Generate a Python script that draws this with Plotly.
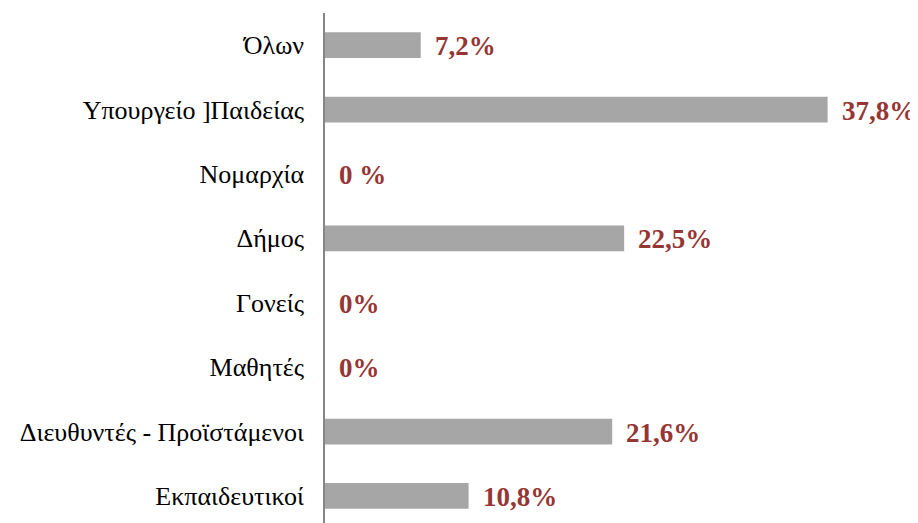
import plotly.graph_objects as go

# Data (bottom to top)
categories = [
    "Εκπαιδευτικοί",
    "Διευθυντές - Προϊστάμενοι",
    "Μαθητές",
    "Γονείς",
    "Δήμος",
    "Νομαρχία",
    "Υπουργείο ]Παιδείας",
    "Όλων",
]
values = [10.8, 21.6, 0, 0, 22.5, 0, 37.8, 7.2]
value_labels = ["10,8%", "21,6%", "0%", "0%", "22,5%", "0 %", "37,8%", "7,2%"]

fig = go.Figure(
    go.Bar(
        x=values,
        y=categories,
        orientation="h",
        width=0.4,
        marker=dict(color="#A6A6A6", line=dict(width=0)),
        hoverinfo="skip",
    )
)

# value labels next to the bars
for cat, val, lab in zip(categories, values, value_labels):
    fig.add_annotation(
        x=val, y=cat, text=lab, showarrow=False,
        xanchor="left", yanchor="middle", xshift=12, yshift=-1,
        font=dict(family="Liberation Serif", size=27, color="#963634", weight="bold"),
    )

# page body adds an 8px offset, so the figure is sized 8px smaller
fig.update_layout(
    width=910,
    height=515,
    margin=dict(l=317, r=0, t=5, b=0),
    plot_bgcolor="white",
    paper_bgcolor="white",
    showlegend=False,
    font=dict(family="Liberation Serif", size=26, color="black"),
    xaxis=dict(
        range=[0, 44.6],
        showgrid=False, zeroline=False, showticklabels=False, showline=False,
    ),
    yaxis=dict(
        type="category",
        categoryorder="array",
        categoryarray=categories,
        range=[-0.42, 7.5],
        showgrid=False, zeroline=False,
        showline=True, linecolor="#868686", linewidth=1.5,
        ticks="", ticklabelstandoff=14,
        tickfont=dict(family="Liberation Serif", size=26, color="black"),
    ),
)

fig.write_html("out.html")
